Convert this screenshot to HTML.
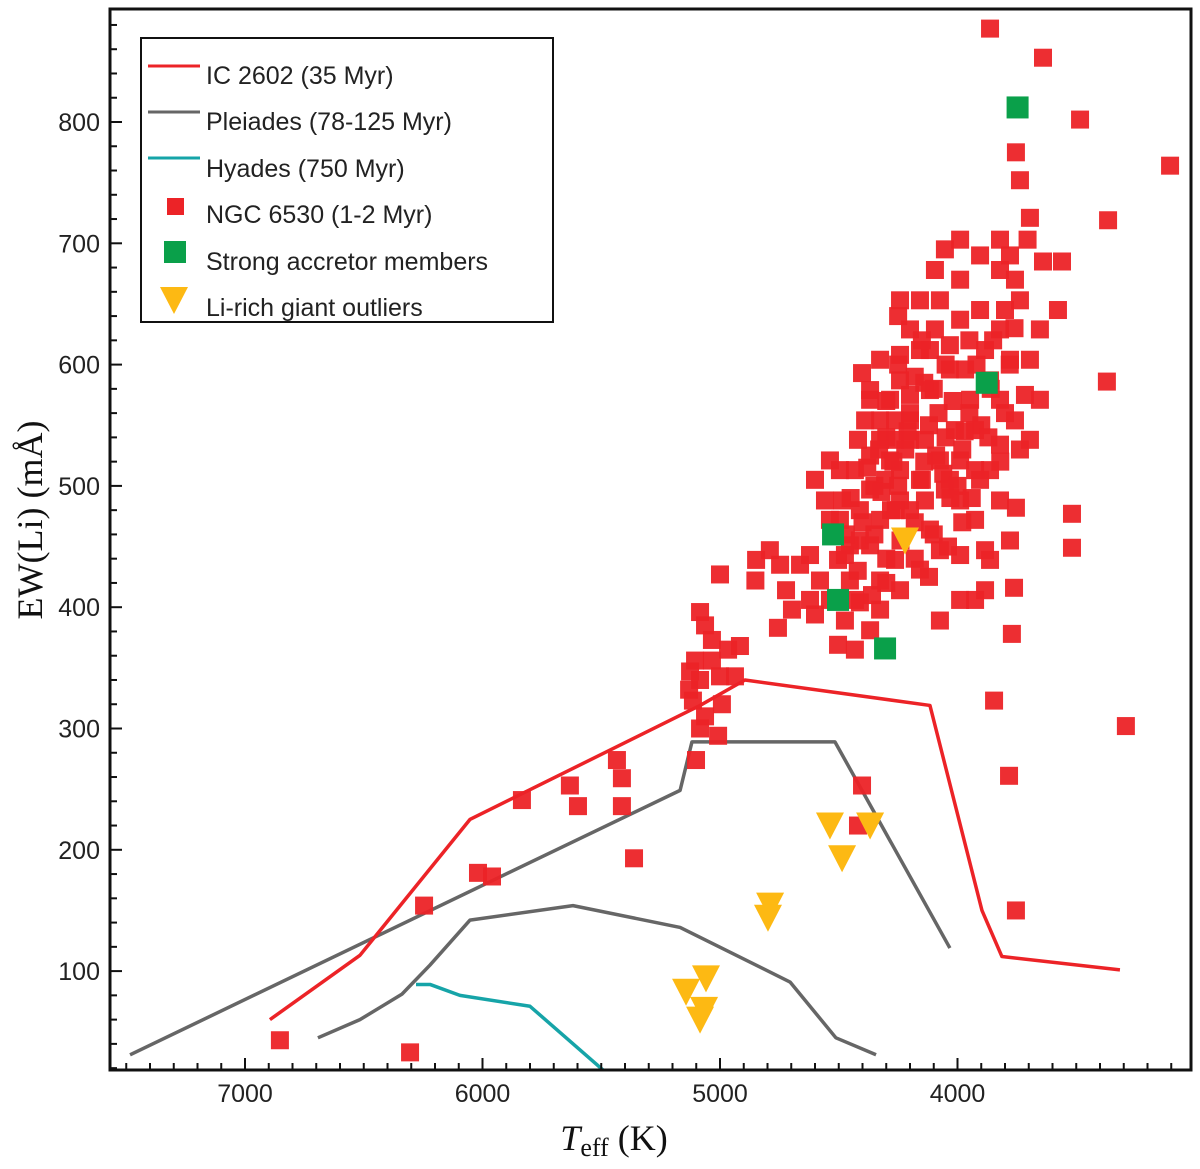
<!DOCTYPE html>
<html><head><meta charset="utf-8"><style>
html,body{margin:0;padding:0;background:#fff;}
svg{display:block;}
.tick{font-family:"Liberation Sans",sans-serif;font-size:25px;fill:#222;}
.leg{font-family:"Liberation Sans",sans-serif;font-size:25px;fill:#222;}
.ttl{font-family:"Liberation Serif",serif;font-size:36px;fill:#111;}
</style></head><body>
<svg id="chart" width="1200" height="1169" viewBox="0 0 1200 1169">
<g id="marks"></g>
<rect x="110" y="9" width="1081" height="1061" fill="none" stroke="#111" stroke-width="3"/>
<g id="axes"></g>
<g>
<rect x="141" y="38" width="412" height="284" fill="#fff" stroke="#111" stroke-width="2"/>
<line x1="148" y1="66" x2="200" y2="66" stroke="#ec2327" stroke-width="3"/>
<text x="206" y="84" class="leg">IC 2602 (35 Myr)</text>
<line x1="148" y1="112" x2="200" y2="112" stroke="#666" stroke-width="3"/>
<text x="206" y="130" class="leg">Pleiades (78-125 Myr)</text>
<line x1="148" y1="158" x2="200" y2="158" stroke="#16a4a8" stroke-width="3"/>
<text x="206" y="177" class="leg">Hyades (750 Myr)</text>
<rect x="167" y="198" width="17" height="17" fill="#ec2327"/>
<text x="206" y="223" class="leg">NGC 6530 (1-2 Myr)</text>
<rect x="164" y="241" width="22" height="22" fill="#0aa04a"/>
<text x="206" y="270" class="leg">Strong accretor members</text>
<polygon points="160,287 188,287 174,314" fill="#fdb913"/>
<text x="206" y="316" class="leg">Li-rich giant outliers</text>
</g>
<text x="614" y="1150" text-anchor="middle" class="ttl"><tspan font-style="italic">T</tspan><tspan font-size="26" dy="6">eff</tspan><tspan dy="-6"> (K)</tspan></text>
<text transform="translate(42,520) rotate(-90)" text-anchor="middle" class="ttl">EW(Li) (mÅ)</text>
</svg>
<script>
const xTicks=[7000,6000,5000,4000];
const yTicks=[100,200,300,400,500,600,700,800];
const ic2602T=[6895,6516,6053,5084,4895,4116,3897,3813,3316];
const ic2602EW=[60,113,225,319,340,319,150,112,101];
const pleiUpT=[7484,5168,5118,4516,4032];
const pleiUpEW=[31,249,289,289,119];
const pleiLoT=[6693,6516,6339,6221,6053,5619,5168,4705,4512,4343];
const pleiLoEW=[45,60,81,105,142,154,136,91,45,31];
const hyaT=[6280,6221,6095,5800,5484];
const hyaEW=[89,89,80,71,17];
const redT=[3863,3640,3484,3105,3737,3754,3366,3695,3560,3640,3577,3371,3518,3518,3291,3846,3762,3771,3783,3754,3884,3884,3754,
6853,6305,6246,6019,5960,5834,5632,5598,5434,5413,5413,5362,5101,5008,4402,4419,5000,4937,4992,
5084,5063,5034,4916,4966,5105,5126,5084,5130,5114,5063,5084,5034,5000,
4848,4790,4747,4722,4851,4756,4697,4621,4600,4579,4503,4411,4503,4453,4537,4486,4432,4368,4419,4326,4402,4284,4242,4200,4137,4074,4032,3989,3926,3863,3821,3737,3695,3653,3695,3653,3737,3821,3905,3989,4074,4095,3989,3905,3821,3779,3863,3947,4032,4116,4158,4200,4242,4326,4368,4158,4242,4326,4284,4200,4116,4074,4158,4242,4326,4368,4432,4453,4368,4263,3989,4074,3989,3926,3863,3779,3821,3905,4011,3926,3758,3716,3821,4095,3989,3821,3779,3705,4053,4158,4242,4495,4600,4537,4558,4495,4411,4368,4305,4242,4200,4263,4326,4263,4389,4368,4116,4032,3968,3884,3800,3758,3926,3989,4053,4137,4411,4474,4326,4432,4663,4621,4537,4474,
4250,4180,4100,4020,3950,3900,4300,4200,4120,4050,3980,3920,3860,3800,3850,3950,4050,4150,4250,4300,4220,4140,4060,4000,3940,4350,4280,4180,4100,4040,3980,4400,4450,4350,4300,4250,3870,3820,3780,3760,
4330,4270,4210,4150,4090,4030,3970,4380,4320,4260,4200,4140,4080,4470,4420,4360,4300,4240,4180,4120];
const redEW=[877,853,802,764,752,775,719,721,685,685,645,586,477,449,302,323,416,378,261,150,447,414,482,
43,33,154,181,178,241,253,236,274,259,236,193,274,294,253,220,427,343,320,
396,385,373,368,365,356,347,340,332,323,310,300,356,343,
439,447,435,414,422,383,398,406,394,422,369,404,439,451,472,488,513,525,538,554,593,571,587,554,538,521,505,488,472,513,534,530,538,571,604,629,653,678,690,670,653,629,637,645,629,604,587,571,596,579,612,629,608,604,579,505,488,472,521,480,464,447,431,414,398,381,365,422,451,439,443,389,406,406,439,455,488,505,546,546,554,575,571,678,703,703,690,703,695,653,653,513,505,521,488,472,480,497,505,513,538,554,538,538,554,571,612,616,596,612,645,670,513,521,497,488,455,443,422,406,435,443,406,389,
600,590,580,570,560,550,570,560,550,540,530,600,580,560,620,620,600,620,640,540,530,520,510,500,490,500,480,470,460,450,470,470,490,460,440,500,540,520,600,630,
530,520,545,505,525,490,545,515,495,480,575,585,560,460,430,410,420,455,440,425];
const greenT=[3747,3877,4524,4503,4305];
const greenEW=[812,585,460,406,366];
const giantT=[4221,4537,4368,4486,4789,4798,5059,5143,5084,5067];
const giantEW=[455,220,220,193,154,144,94,83,60,68];

const NS='http://www.w3.org/2000/svg';
function xs(t){return 245+(7000-t)*0.2375;}
function ys(v){return 122+(800-v)*1.213;}
function mk(tag,attrs,parent){const e=document.createElementNS(NS,tag);for(const k in attrs)e.setAttribute(k,attrs[k]);parent.appendChild(e);return e;}
const marks=document.getElementById('marks');
const axes=document.getElementById('axes');
const clip=mk('clipPath',{id:'pc'},marks);mk('rect',{x:110,y:9,width:1081,height:1061},clip);

function line(T,E,color,name){
  const p=mk('polyline',{points:T.map((t,i)=>xs(t)+','+ys(E[i])).join(' '),fill:'none',stroke:color,'stroke-width':3.5,'stroke-linejoin':'round','clip-path':'url(#pc)'},marks);
  
  
}
line(pleiUpT,pleiUpEW,'#666','pleiades-upper-line');
line(pleiLoT,pleiLoEW,'#666','pleiades-lower-line');
line(hyaT,hyaEW,'#16a4a8','hyades-line');
line(ic2602T,ic2602EW,'#ec2327','ic2602-line');

redT.forEach((t,i)=>{
  const r=mk('rect',{x:xs(t)-9,y:ys(redEW[i])-9,width:18,height:18,fill:'#ec2327','fill-opacity':0.95},marks);
  
  
});
greenT.forEach((t,i)=>{
  const r=mk('rect',{x:xs(t)-11,y:ys(greenEW[i])-11,width:22,height:22,fill:'#0aa04a'},marks);
  
  
});
giantT.forEach((t,i)=>{
  const x=xs(t),y=ys(giantEW[i]);
  const p=mk('polygon',{points:(x-14)+','+(y-13)+' '+(x+14)+','+(y-13)+' '+x+','+(y+14),fill:'#fdb913'},marks);
  
  
});

for(let t=7500;t>=3100;t-=100){
  const x=xs(t);const major=t%1000===0;
  mk('line',{x1:x,y1:1070,x2:x,y2:major?1058:1063,stroke:'#111','stroke-width':2},axes);
}
xTicks.forEach(t=>{
  const e=mk('text',{x:xs(t),y:1102,'text-anchor':'middle',class:'tick'},axes);e.textContent=t;
  
  
});
for(let v=20;v<=890;v+=20){
  const y=ys(v);const major=v%100===0;
  mk('line',{x1:110,y1:y,x2:major?122:117,y2:y,stroke:'#111','stroke-width':2},axes);
}
yTicks.forEach(v=>{
  const e=mk('text',{x:100,y:ys(v)+9,'text-anchor':'end',class:'tick'},axes);e.textContent=v;
  
  
});
</script>
</body></html>
